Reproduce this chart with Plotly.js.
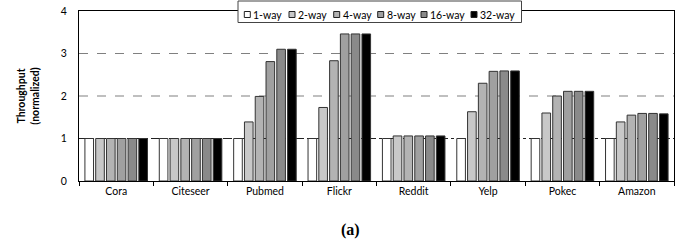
<!DOCTYPE html>
<html>
<head>
<meta charset="utf-8">
<script src="https://cdn.plot.ly/plotly-3.0.1.min.js"></script>
<style>html,body{margin:0;padding:0;background:#fff;}#chart{width:678px;height:241px;}</style>
</head>
<body>
<div id="chart"></div>
<script>
const categories = ["Cora","Citeseer","Pubmed","Flickr","Reddit","Yelp","Pokec","Amazon"];
const seriesNames = ["1-way","2-way","4-way","8-way","16-way","32-way"];
const way1  = [1, 1, 1, 1, 1, 1, 1, 1];
const way2  = [1, 1, 1.39, 1.73, 1.06, 1.63, 1.60, 1.39];
const way4  = [1, 1, 1.99, 2.83, 1.06, 2.30, 2.00, 1.55];
const way8  = [1, 1, 2.81, 3.46, 1.06, 2.58, 2.11, 1.59];
const way16 = [1, 1, 3.10, 3.46, 1.06, 2.59, 2.11, 1.59];
const way32 = [1, 1, 3.10, 3.46, 1.06, 2.59, 2.11, 1.58];
const yTicks = [0, 1, 2, 3, 4];

const colors = ["#ffffff","#c8c8c8","#b3b3b3","#a0a0a0","#8a8a8a","#000000"];
const values = [way1, way2, way4, way8, way16, way32];

const W = 678, H = 241;
const M = {l: 79, r: 4, t: 11, b: 60};
const pw = W - M.l - M.r, ph = H - M.t - M.b;
const px = x => (x - M.l) / pw;     // pixel -> paper x
const py = y => (H - M.b - y) / ph; // pixel -> paper y

const traces = values.map((v, i) => ({
  type: "bar",
  name: seriesNames[i],
  x: categories,
  y: v,
  showlegend: false,
  marker: {color: colors[i], line: {color: "#333333", width: 1}}
}));

const font = "Lato, Open Sans, Liberation Sans, sans-serif";

// custom compact legend (framed box over the top border)
const legendLeft = [244.3, 289, 333.7, 377.7, 421, 471];
const shapes = [
  {type: "line", xref: "paper", x0: 0, x1: 1, yref: "y", y0: 2, y1: 2, layer: "below", line: {color: "#808080", width: 1.2, dash: "dash"}},
  {type: "line", xref: "paper", x0: 0, x1: 1, yref: "y", y0: 3, y1: 3, layer: "below", line: {color: "#808080", width: 1.2, dash: "dash"}},
  {type: "line", xref: "paper", x0: 0, x1: 1, yref: "y", y0: 1, y1: 1, layer: "below", line: {color: "#222", width: 1, dash: "dashdot"}},
  {type: "rect", xref: "paper", yref: "paper", x0: px(238), x1: px(521.5), y0: py(22.5), y1: py(1), layer: "above",
   fillcolor: "#fff", line: {color: "#444", width: 1}}
];
const annotations = [
  {text: "<b>(a)</b>", xref: "paper", yref: "paper", x: px(350), y: py(230), xanchor: "center", yanchor: "middle",
   showarrow: false, font: {family: "Liberation Serif, Times New Roman, serif", size: 16, color: "#000"}}
];
seriesNames.forEach((n, i) => {
  const x0 = legendLeft[i];
  shapes.push({type: "rect", xref: "paper", yref: "paper", x0: px(x0), x1: px(x0 + 6), y0: py(17.5), y1: py(11.5),
    layer: "above", fillcolor: colors[i], line: {color: "#222", width: 1}});
  annotations.push({text: n, xref: "paper", yref: "paper", x: px(x0 + 7), y: py(14.5), xanchor: "left", yanchor: "middle",
    showarrow: false, font: {family: font, size: 10.5, color: "#000"}});
});

const layout = {
  width: W, height: H,
  margin: M,
  paper_bgcolor: "#fff", plot_bgcolor: "#fff",
  barmode: "group", bargap: 0.13, bargroupgap: 0.2,
  showlegend: false,
  xaxis: {type: "category", tickson: "boundaries", ticks: "outside", ticklen: 4, tickcolor: "#000",
    showline: true, linecolor: "#000", linewidth: 1, mirror: true, showgrid: false,
    tickfont: {family: font, size: 10.5, color: "#000"}},
  yaxis: {range: [0, 4], tickvals: yTicks, ticks: "", showgrid: false, zeroline: false,
    showline: true, linecolor: "#000", linewidth: 1, mirror: true, ticklabelstandoff: 9,
    tickfont: {family: font, size: 10.5, color: "#000"},
    title: {text: "<b>Throughput<br>(normalized)</b>", font: {family: font, size: 10.5, color: "#000"}, standoff: 19}},
  shapes: shapes,
  annotations: annotations
};
Plotly.newPlot("chart", traces, layout, {displayModeBar: false, staticPlot: true});
</script>
</body>
</html>
